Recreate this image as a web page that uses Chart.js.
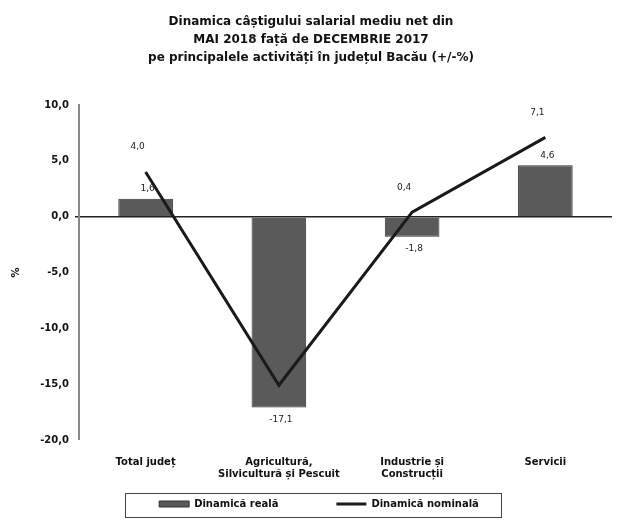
<!DOCTYPE html>
<html>
<head>
<meta charset="utf-8">
<script src="https://cdn.jsdelivr.net/npm/chart.js@4/dist/chart.umd.min.js"></script>
<style>
  html, body { margin: 0; padding: 0; background: #fff; }
  #wrap { width: 618px; height: 526px; }
</style>
</head>
<body>
<div id="wrap"><canvas id="chart" width="618" height="526"></canvas></div>
<script>
// Dinamica câștigului salarial - județul Bacău
const categories = [
    'Total județ',
    ['Agricultură,', 'Silvicultură și Pescuit'],
    ['Industrie și', 'Construcții'],
    'Servicii'
];
const realValues = [1.6, -17.1, -1.8, 4.6];
const nominalValues = [4.0, -15.1, 0.4, 7.1];
const titleLines = [
    'Dinamica câștigului salarial mediu net din',
    'MAI 2018 față de DECEMBRIE 2017',
    'pe principalele activități în județul Bacău (+/-%)'
];

const FONT = '"DejaVu Sans", "Liberation Sans", sans-serif';
const LEGEND_PAD = 58;   // spatiu intre elementele legendei
const LEGEND_Y = 505;    // centrul vertical al legendei

function fmt(v) {
    return v.toFixed(1).replace('.', ',');
}

// etichete de valori
const valueLabels = {
    id: 'valueLabels',
    afterDatasetsDraw(chart) {
        const ctx = chart.ctx;
        ctx.save();
        ctx.font = '9px ' + FONT;
        ctx.fillStyle = '#222';
        ctx.textAlign = 'center';
        ctx.textBaseline = 'middle';
        const barMeta = chart.getDatasetMeta(0);
        barMeta.data.forEach((bar, i) => {
            const v = realValues[i];
            const y = v >= 0 ? bar.y - 10 : bar.y + 12;
            ctx.fillText(fmt(v), bar.x + 2, y);
        });
        const lineMeta = chart.getDatasetMeta(1);
        lineMeta.data.forEach((pt, i) => {
            if (i === 1) return;
            ctx.fillText(fmt(nominalValues[i]), pt.x - 8, pt.y - 25);
        });
        ctx.restore();
    }
};

// legenda: pozitie + chenar
const legendBox = {
    id: 'legendBox',
    afterLayout(chart) {
        const lg = chart.legend;
        if (!lg) return;
        const shift = (lg.top + LEGEND_PAD + 6) - LEGEND_Y;
        lg.top -= shift;
        lg.bottom -= shift;
        lg.left += 8;
        lg.right += 8;
    },
    afterDraw(chart) {
        const ctx = chart.ctx;
        ctx.save();
        ctx.strokeStyle = '#444';
        ctx.lineWidth = 1;
        ctx.strokeRect(125.5, LEGEND_Y - 12 + 0.5, 376, 24);
        ctx.restore();
    }
};

const ctx = document.getElementById('chart').getContext('2d');
new Chart(ctx, {
    data: {
        labels: categories,
        datasets: [{
            type: 'bar',
            label: 'Dinamică reală',
            data: realValues,
            backgroundColor: '#5a5a5a',
            borderColor: '#333',
            borderWidth: 1,
            categoryPercentage: 0.82,
            barPercentage: 0.5,
            pointStyle: 'rect',
            order: 2
        }, {
            type: 'line',
            label: 'Dinamică nominală',
            data: nominalValues,
            borderColor: '#1a1a1a',
            backgroundColor: '#1a1a1a',
            borderWidth: 3,
            pointRadius: 0,
            pointStyle: 'line',
            tension: 0,
            order: 1
        }]
    },
    options: {
        responsive: false,
        animation: false,
        layout: { padding: { left: 10, right: 6, top: 6, bottom: 4 - (LEGEND_PAD - 14) } },
        plugins: {
            title: {
                display: true,
                text: titleLines,
                color: '#111',
                font: { family: FONT, size: 12, weight: 'bold', lineHeight: 1.5 },
                padding: { top: 7, bottom: 38 }
            },
            legend: {
                display: true,
                position: 'bottom',
                labels: {
                    color: '#111',
                    font: { family: FONT, size: 10, weight: 'bold' },
                    usePointStyle: true,
                    pointStyleWidth: 30,
                    boxHeight: 6,
                    padding: LEGEND_PAD,
                    sort: (a, b) => a.datasetIndex - b.datasetIndex
                }
            },
            tooltip: { enabled: false }
        },
        scales: {
            x: {
                grid: { display: false },
                border: { display: false },
                ticks: {
                    color: '#111',
                    maxRotation: 0,
                    autoSkip: false,
                    padding: 8,
                    font: { family: FONT, size: 10, weight: 'bold' }
                }
            },
            y: {
                min: -20,
                max: 10,
                ticks: {
                    stepSize: 5,
                    color: '#111',
                    padding: 6,
                    font: { family: FONT, size: 10, weight: 'bold' },
                    callback: v => fmt(v)
                },
                grid: {
                    drawOnChartArea: true,
                    drawTicks: true,
                    tickLength: 4,
                    color: c => c.tick && c.tick.value === 0 ? '#222' : 'rgba(0,0,0,0)',
                    lineWidth: c => c.tick && c.tick.value === 0 ? 1.5 : 0
                },
                border: { display: true, color: '#888', width: 2 },
                title: {
                    display: true,
                    text: '%',
                    color: '#111',
                    font: { family: FONT, size: 10, weight: 'bold' },
                    padding: { top: 0, bottom: 4 }
                },
                afterFit(scale) { scale.width = 69; }
            }
        }
    },
    plugins: [valueLabels, legendBox]
});
</script>
</body>
</html>
